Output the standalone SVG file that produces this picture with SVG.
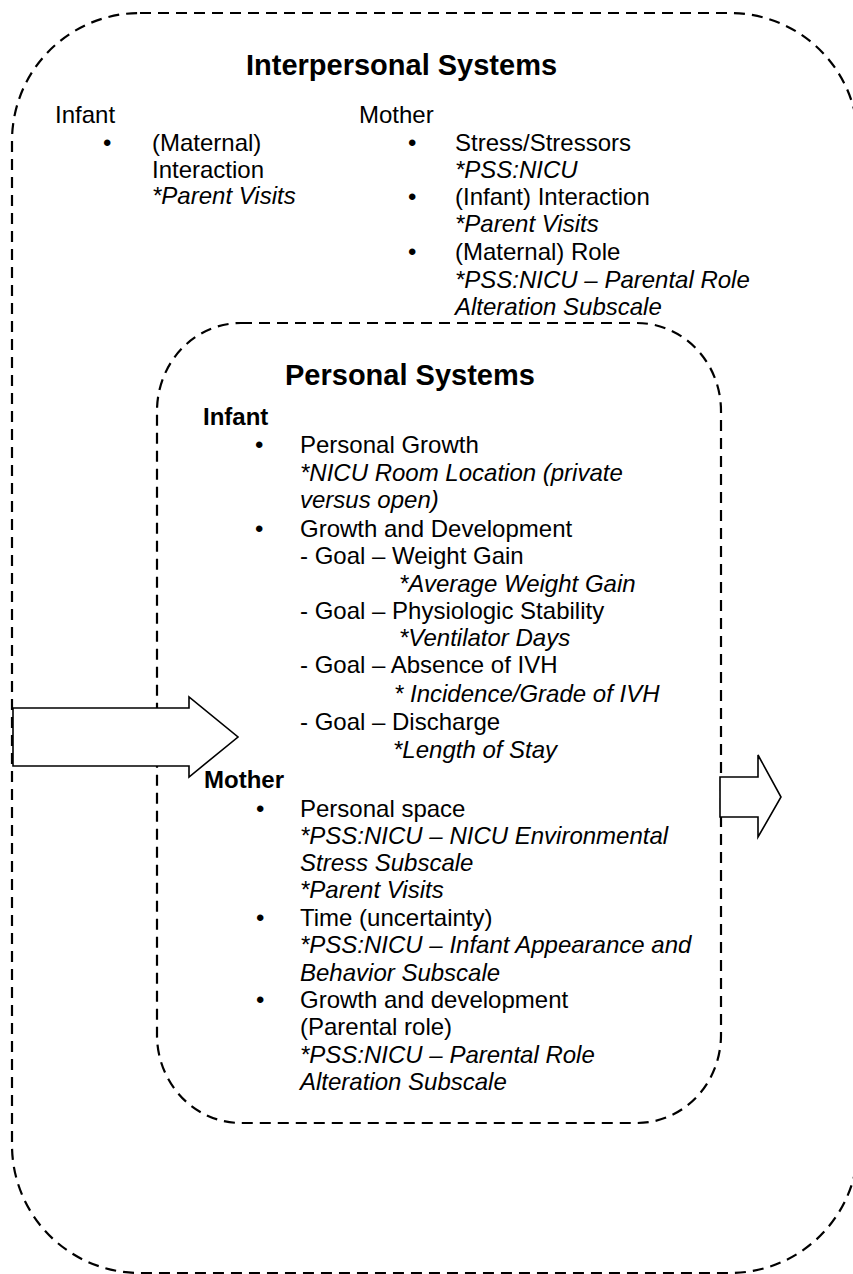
<svg xmlns="http://www.w3.org/2000/svg" width="853" height="1274" viewBox="0 0 853 1274">
<style>
.box{fill:none;stroke:#000;stroke-width:2.2;stroke-dasharray:11 7}
.arrow{fill:#fff;stroke:#000;stroke-width:1.6;stroke-linejoin:miter}
text{font-family:"Liberation Sans",Arial,sans-serif;font-size:24px;fill:#000}
.title{font-size:29px;font-weight:bold}
.b{font-weight:bold}
.i{font-style:italic}
</style>
<rect x="0" y="0" width="853" height="1274" fill="#fff"/>
<g id="interpersonal-systems">
<rect class="box" x="12" y="13" width="846" height="1260" rx="128" ry="128"/>
<text class="title" x="246" y="75">Interpersonal Systems</text>
<text x="55" y="123">Infant</text>
<text x="103" y="151">•</text>
<text x="152" y="151">(Maternal)</text>
<text x="152" y="178">Interaction</text>
<text class="i" x="152" y="204">*Parent Visits</text>
<text x="359" y="123">Mother</text>
<text x="408" y="151">•</text>
<text x="455" y="151">Stress/Stressors</text>
<text class="i" x="455" y="178">*PSS:NICU</text>
<text x="408" y="205">•</text>
<text x="455" y="205">(Infant) Interaction</text>
<text class="i" x="455" y="232">*Parent Visits</text>
<text x="408" y="260">•</text>
<text x="455" y="260">(Maternal) Role</text>
<text class="i" x="455" y="288">*PSS:NICU – Parental Role</text>
<text class="i" x="455" y="315">Alteration Subscale</text>
</g>
<g id="personal-systems">
<rect class="box" x="157" y="323" width="564" height="800" rx="84" ry="88"/>
<text class="title" x="285" y="385">Personal Systems</text>
<text class="b" x="203" y="425">Infant</text>
<text x="255" y="453">•</text>
<text x="300" y="453">Personal Growth</text>
<text class="i" x="300" y="481">*NICU Room Location (private</text>
<text class="i" x="300" y="508">versus open)</text>
<text x="255" y="537">•</text>
<text x="300" y="537">Growth and Development</text>
<text x="300" y="564">- Goal – Weight Gain</text>
<text class="i" x="399" y="592">*Average Weight Gain</text>
<text x="300" y="619">- Goal – Physiologic Stability</text>
<text class="i" x="399" y="646">*Ventilator Days</text>
<text x="300" y="673">- Goal – Absence of IVH</text>
<text class="i" x="394" y="702">* Incidence/Grade of IVH</text>
<text x="300" y="730">- Goal – Discharge</text>
<text class="i" x="393" y="758">*Length of Stay</text>
<text class="b" x="204" y="788">Mother</text>
<text x="256" y="817">•</text>
<text x="300" y="817">Personal space</text>
<text class="i" x="300" y="844">*PSS:NICU – NICU Environmental</text>
<text class="i" x="300" y="871">Stress Subscale</text>
<text class="i" x="300" y="898">*Parent Visits</text>
<text x="256" y="926">•</text>
<text x="300" y="926">Time (uncertainty)</text>
<text class="i" x="300" y="953">*PSS:NICU – Infant Appearance and</text>
<text class="i" x="300" y="981">Behavior Subscale</text>
<text x="256" y="1008">•</text>
<text x="300" y="1008">Growth and development</text>
<text x="300" y="1035">(Parental role)</text>
<text class="i" x="300" y="1063">*PSS:NICU – Parental Role</text>
<text class="i" x="300" y="1090">Alteration Subscale</text>
</g>
<g id="connectors">
<polygon id="arrow-in" class="arrow" points="13,708 189,708 189,697 238,737 189,777 189,766 13,766"/>
<polygon id="arrow-out" class="arrow" points="720,777 758,777 758,755 781,797 758,837 758,817 720,817"/>
</g>
</svg>
